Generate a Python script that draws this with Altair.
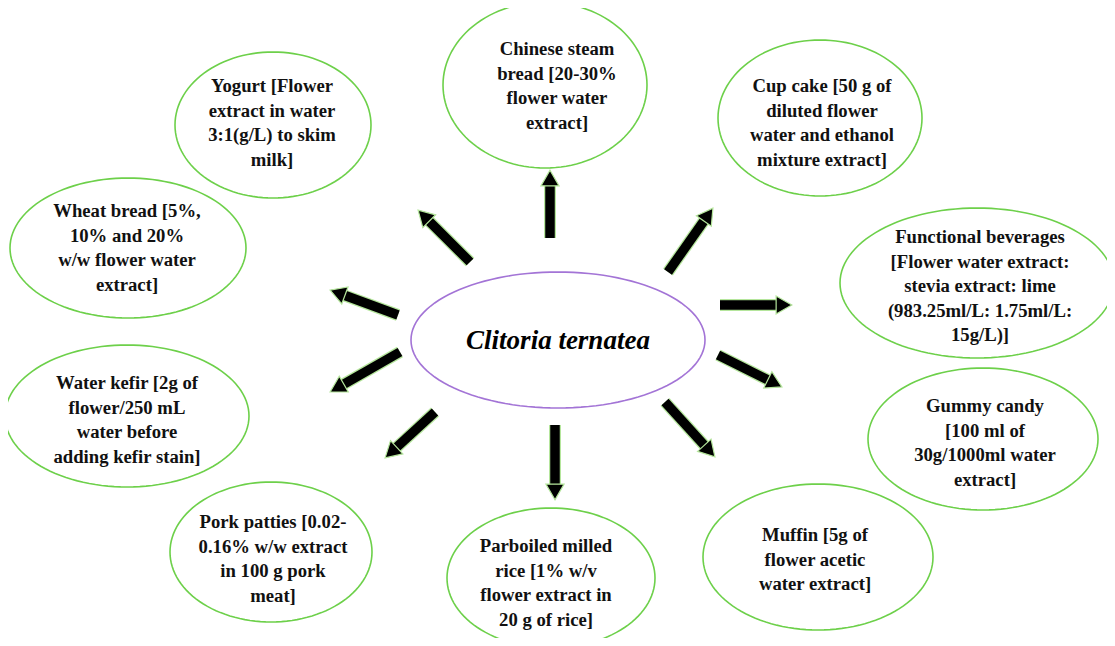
import math
import numpy as np
import pandas as pd
import altair as alt

# ---- node content ----
node_names = ["Chinese steam bread", "Cup cake", "Functional beverages", "Gummy candy", "Muffin",
              "Parboiled milled rice", "Pork patties", "Water kefir", "Wheat bread", "Yogurt"]
node_texts = [
    "Chinese steam\nbread [20-30%\nflower water\nextract]",
    "Cup cake [50 g of\ndiluted flower\nwater and ethanol\nmixture extract]",
    "Functional beverages\n[Flower water extract:\nstevia extract: lime\n(983.25ml/L: 1.75ml/L:\n15g/L)]",
    "Gummy candy\n[100 ml of\n30g/1000ml water\nextract]",
    "Muffin [5g of\nflower acetic\nwater extract]",
    "Parboiled milled\nrice [1% w/v\nflower extract in\n20 g of rice]",
    "Pork patties [0.02-\n0.16% w/w extract\nin 100 g pork\nmeat]",
    "Water kefir [2g of\nflower/250 mL\nwater before\nadding kefir stain]",
    "Wheat bread [5%,\n10% and 20%\nw/w flower water\nextract]",
    "Yogurt [Flower\nextract in water\n3:1(g/L) to skim\nmilk]",
]
center_text = "Clitoria ternatea"

# ---- layout (image pixel coordinates) ----
node_cx = [545, 820, 977, 983, 818, 551, 271, 127, 128, 273]
node_cy = [85, 118, 283, 439, 557, 578, 552, 416, 248, 125]
node_rx = [102, 102, 137, 115, 115, 104, 101, 122, 118, 98]
node_ry = [83, 78, 75, 71, 73, 70, 70, 71, 70, 73]
text_x = [557, 822, 980, 985, 815, 546, 273, 127, 127, 272]
text_first_y = [49, 86, 237, 406, 535, 546, 522, 383, 211, 86]
center_cx, center_cy, center_rx, center_ry = 558, 340, 147, 68

arrow_x1 = [550, 470, 398, 400, 435, 555, 665, 718, 720, 668]
arrow_y1 = [238, 262, 315, 352, 412, 425, 402, 355, 305, 272]
arrow_x2 = [550, 418, 330, 330, 385, 555, 715, 782, 792, 713]
arrow_y2 = [170, 210, 290, 392, 458, 500, 457, 387, 305, 208]

W, H = 1099, 630
xs = alt.Scale(domain=[8, 8 + W], nice=False, zero=False)
ys = alt.Scale(domain=[8, 8 + H], nice=False, zero=False, reverse=True)

# ellipse outlines
rows = []
t = np.linspace(0, 2 * math.pi, 121)
for i, name in enumerate(node_names + ["center"]):
    if name == "center":
        cx, cy, rx, ry = center_cx, center_cy, center_rx, center_ry
    else:
        cx, cy, rx, ry = node_cx[i], node_cy[i], node_rx[i], node_ry[i]
    for k, tt in enumerate(t):
        rows.append({"id": name, "k": k, "x": cx + rx * math.cos(tt), "y": cy + ry * math.sin(tt),
                     "kind": "center" if name == "center" else "node"})
ell = pd.DataFrame(rows)

ellipses = alt.Chart(ell).mark_line(strokeWidth=1.6, interpolate="linear").encode(
    x=alt.X("x:Q", scale=xs, axis=None),
    y=alt.Y("y:Q", scale=ys, axis=None),
    detail="id:N",
    order="k:Q",
    color=alt.Color("kind:N", scale=alt.Scale(domain=["node", "center"], range=["#6dd04a", "#a374d6"]), legend=None),
)

# arrows
arows = []
for i in range(len(arrow_x1)):
    dx, dy = arrow_x2[i] - arrow_x1[i], arrow_y2[i] - arrow_y1[i]
    L = math.hypot(dx, dy)
    ux, uy = dx / L, dy / L
    ang = math.degrees(math.atan2(ux, -uy)) % 360
    arows.append({"x1": arrow_x1[i], "y1": arrow_y1[i],
                  "sx": arrow_x2[i] - ux * 11, "sy": arrow_y2[i] - uy * 11,
                  "hx": arrow_x2[i] - ux * 8, "hy": arrow_y2[i] - uy * 8,
                  "ang": ang})
adf = pd.DataFrame(arows)

shaft_outline = alt.Chart(adf).mark_rule(strokeWidth=12, color="#b5e69c", strokeCap="butt").encode(
    x=alt.X("x1:Q", scale=xs, axis=None), y=alt.Y("y1:Q", scale=ys, axis=None), x2="sx:Q", y2="sy:Q")
shaft = alt.Chart(adf).mark_rule(strokeWidth=9.5, color="black", strokeCap="butt").encode(
    x=alt.X("x1:Q", scale=xs, axis=None), y=alt.Y("y1:Q", scale=ys, axis=None), x2="sx:Q", y2="sy:Q")
heads = alt.Chart(adf).mark_point(shape="triangle-up", size=330, filled=True, fill="black",
                                  stroke="#b5e69c", strokeWidth=1.2, opacity=1).encode(
    x=alt.X("hx:Q", scale=xs, axis=None), y=alt.Y("hy:Q", scale=ys, axis=None),
    angle=alt.Angle("ang:Q", scale=None))

tdf = pd.DataFrame({"x": text_x, "y": text_first_y, "label": node_texts})
labels = alt.Chart(tdf).mark_text(font="Liberation Serif", fontWeight="bold", fontSize=18.7,
                                  lineBreak="\n", lineHeight=24.5, align="center", baseline="middle",
                                  color="#111111").encode(
    x=alt.X("x:Q", scale=xs, axis=None), y=alt.Y("y:Q", scale=ys, axis=None), text="label:N")

cdf = pd.DataFrame({"x": [center_cx], "y": [center_cy + 1], "label": [center_text]})
clabel = alt.Chart(cdf).mark_text(font="Liberation Serif", fontWeight="bold", fontStyle="italic",
                                  fontSize=27, align="center", baseline="middle", color="black").encode(
    x=alt.X("x:Q", scale=xs, axis=None), y=alt.Y("y:Q", scale=ys, axis=None), text="label:N")

chart = alt.layer(ellipses, shaft_outline, shaft, heads, labels, clabel).properties(
    width=W, height=H, padding=0, autosize=alt.AutoSizeParams(type="none"),
    background="white",
).configure_view(stroke=None)

chart.save("out.html", embed_options={"renderer": "svg", "actions": False})
